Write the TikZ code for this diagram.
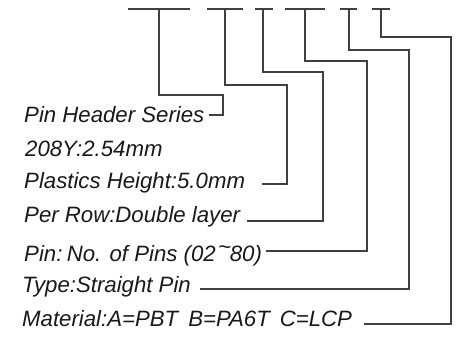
\documentclass[tikz,border=0pt]{standalone}
\usepackage{fontspec}
\setmainfont{Liberation Sans}
\begin{document}
\begin{tikzpicture}[x=1pt,y=-1pt,
  lbl/.style={anchor=base west, inner sep=0pt, font=\itshape\fontsize{22.2}{24}\selectfont, text=black!90},
  conn/.style={draw=black!75, line width=1.3pt, line join=miter},
  bar/.style={draw=black!75, line width=1.5pt}]
\useasboundingbox (0,0) rectangle (459,341);
% labels
\node[lbl] (l1) at (24,122) {Pin Header Series};
\node[lbl] (l2) at (25,156) {208Y:2.54mm};
\node[lbl] (l3) at (24,188) {Plastics Height:5.0mm};
\node[lbl] (l4) at (24,222) {Per Row:Double layer};
\node[lbl] (l5) at (24,261) {Pin:\hspace{.2em}No. of Pins (02\hspace{.1em}\raisebox{.3em}{\textasciitilde}\hspace{-.05em}80)};
\node[lbl] (l6) at (22,292) {Type:Straight Pin};
\node[lbl] (l7) at (22,326) {Material:A=PBT\hspace{.45em}B=PA6T\hspace{.45em}C=LCP};
% top bars
\coordinate (b1l) at (128,9); \coordinate (b1r) at (190,9); \coordinate (a1) at (159,9);
\coordinate (b2l) at (207,9); \coordinate (b2r) at (243,9); \coordinate (a2) at (225,9);
\coordinate (b3l) at (255,9); \coordinate (b3r) at (273,9); \coordinate (a3) at (263,9);
\coordinate (b4l) at (285,9); \coordinate (b4r) at (325,9); \coordinate (a4) at (305,9);
\coordinate (b5l) at (340,9); \coordinate (b5r) at (357,9); \coordinate (a5) at (349,9);
\coordinate (b6l) at (372,9); \coordinate (b6r) at (390,9); \coordinate (a6) at (381,9);
\foreach \i in {1,...,6}{\draw[bar] (b\i l) -- (b\i r);}
% bends and ends
\coordinate (k1) at (223,95);  \coordinate (e1) at (209,115);
\coordinate (k2) at (287,85);  \coordinate (e2) at (262,184);
\coordinate (k3) at (323,72);  \coordinate (e3) at (247,221);
\coordinate (k4) at (367,61);  \coordinate (e4) at (266,251);
\coordinate (k5) at (409,50);  \coordinate (e5) at (200,289);
\coordinate (k6) at (451,37);  \coordinate (e6) at (364,324);
\foreach \i in {1,...,6}{\draw[conn] (a\i) |- (k\i) |- (e\i);}
\end{tikzpicture}
\end{document}
